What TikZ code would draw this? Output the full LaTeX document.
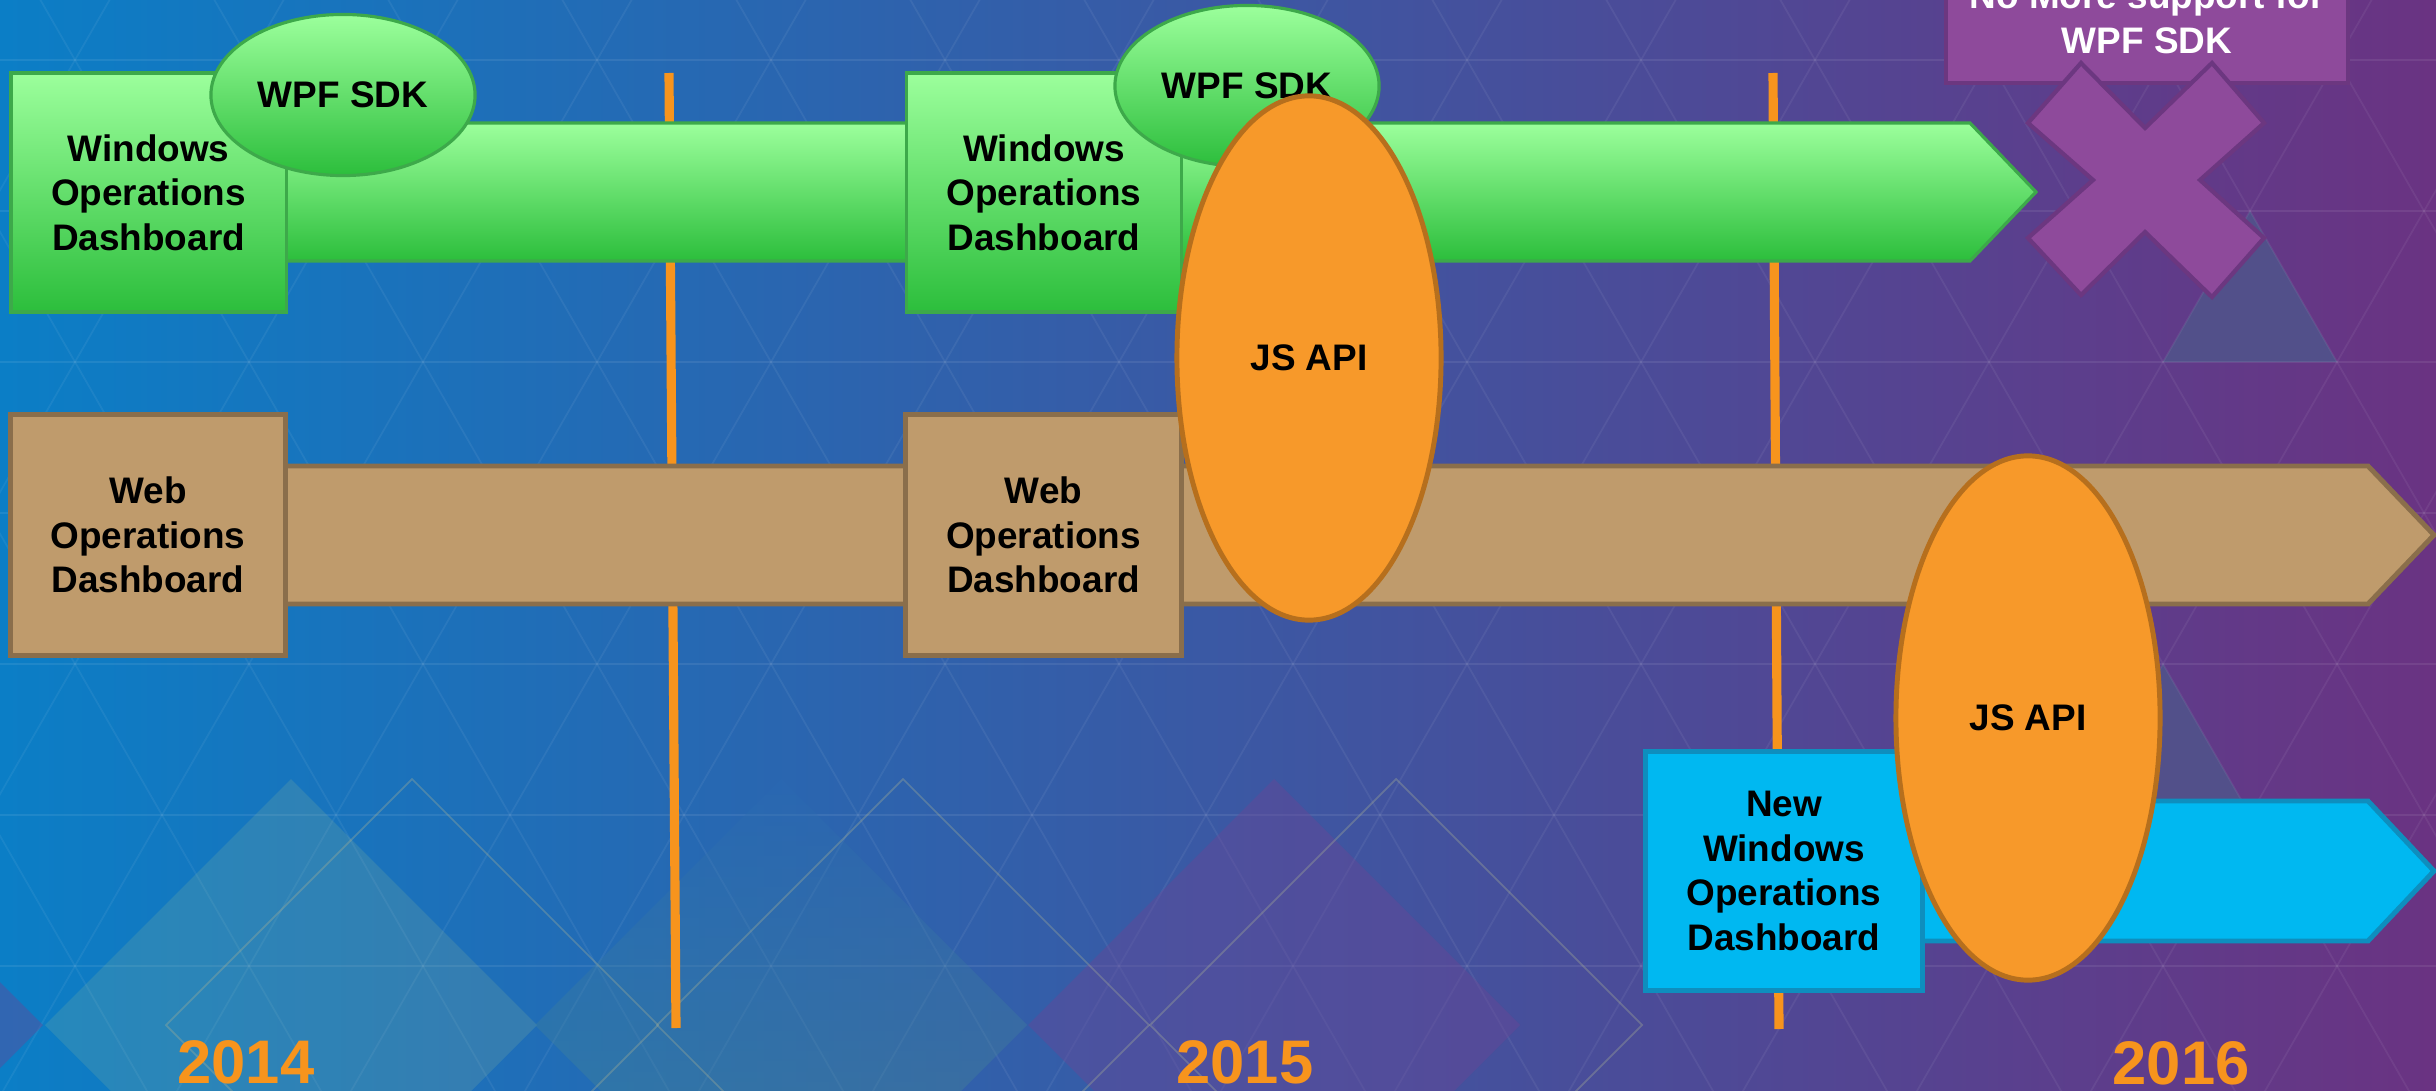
\documentclass[tikz,border=0pt]{standalone}
\usepackage{fontspec}
\setmainfont{Liberation Sans}
\usetikzlibrary{positioning,shapes.geometric}

\definecolor{bgblue}{HTML}{0B7EC6}
\definecolor{bgmid}{HTML}{3C52A2}
\definecolor{bgpurple}{HTML}{6A3382}
\definecolor{lightgreen}{HTML}{9CFF9C}
\definecolor{darkgreen}{HTML}{2CBE3C}
\definecolor{greenline}{HTML}{3DA94A}
\definecolor{tanfill}{HTML}{BF9B6C}
\definecolor{tanline}{HTML}{8A6E4B}
\definecolor{cyanfill}{HTML}{00B8F1}
\definecolor{cyanline}{HTML}{0E8EBE}
\definecolor{apiorange}{HTML}{F7992A}
\definecolor{apiline}{HTML}{B66F1D}
\definecolor{yearorange}{HTML}{F7941D}
\definecolor{dropfill}{HTML}{8E4A9B}
\definecolor{dropline}{HTML}{6C3780}
\definecolor{diateal}{HTML}{9DC294}
\definecolor{diadeep}{HTML}{5A9A80}
\definecolor{diatop}{HTML}{2A6AB4}
\definecolor{diapurple}{HTML}{6C4495}
\definecolor{diaedge}{HTML}{A8B094}
\definecolor{hilite}{HTML}{52508A}

\begin{document}
\begin{tikzpicture}[x=0.01cm,y=-0.01cm,on grid,node distance=8.95cm,
  every node/.style={font=\bfseries\fontsize{10.5}{12.7}\selectfont,align=center,inner sep=0pt},
  wod/.style={rectangle,draw=greenline,line width=0.9pt,top color=lightgreen,bottom color=darkgreen,minimum width=2.75cm,minimum height=2.39cm},
  web/.style={rectangle,draw=tanline,line width=1.4pt,fill=tanfill,minimum width=2.75cm,minimum height=2.4cm},
  newwod/.style={rectangle,draw=cyanline,line width=1.4pt,fill=cyanfill,minimum width=2.76cm,minimum height=2.38cm},
  sdk/.style={ellipse,draw=greenline,line width=0.9pt,top color=lightgreen,bottom color=darkgreen,minimum width=2.64cm,minimum height=1.61cm},
  api/.style={ellipse,draw=apiline,line width=1.4pt,fill=apiorange,minimum width=2.64cm,minimum height=5.24cm},
  nomore/.style={rectangle,draw=dropline,line width=1.1pt,fill=dropfill,text=white,minimum width=4.02cm,minimum height=1.3cm},
  year/.style={text=yearorange,font=\bfseries\fontsize{17.5}{20}\selectfont},
  tick/.style={draw=yearorange,line width=2.6pt},
  lattice/.style={draw=white,opacity=0.06,line width=0.5pt}]

  % backdrop
  \useasboundingbox (0,0) rectangle (2436,1091);
  \clip (0,0) rectangle (2436,1091);
  \shade[left color=bgblue,middle color=bgmid,right color=bgpurple] (0,0) rectangle (2436,1091);
  \fill[hilite] (2250,211) -- (2163,362) -- (2337,362) -- cycle;
  \fill[hilite] (2163,664) -- (2076,815) -- (2250,815) -- cycle;
  \foreach \x in {-969,-795,...,3555} {
    \draw[lattice] (\x-87,-91) -- ++(783,1359);
    \draw[lattice] (\x+87,-91) -- ++(-783,1359);
  }
  \foreach \y in {60,211,...,966}
    \draw[lattice,opacity=0.08,line width=0.7pt] (0,\y) -- (2436,\y);
  \foreach \cx/\col/\op in {-203/diapurple/0.4,291/diateal/0.18,1274/diapurple/0.4}
    \fill[\col,opacity=\op] (\cx,779) -- ++(246,246) -- ++(-246,246) -- ++(-246,-246) -- cycle;
  \shade[top color=diatop,bottom color=diadeep,opacity=0.35]
    (781,779) -- ++(246,246) -- ++(-246,246) -- ++(-246,-246) -- cycle;
  \foreach \cx in {412,903,1396}
    \draw[diaedge,opacity=0.35,line width=0.5pt] (\cx,779) -- ++(246,246) -- ++(-246,246) -- ++(-246,-246) -- cycle;

  % year ticks
  \draw[tick] (669,73) -- (676,1028);
  \draw[tick] (1773,73) -- (1779,1029);

  % bars
  \draw[greenline,line width=0.9pt,top color=lightgreen,bottom color=darkgreen]
    (280,123) -- (1970,123) -- (2036,192) -- (1970,261) -- (280,261) -- cycle;
  \draw[tanline,line width=1.4pt,fill=tanfill]
    (280,466) -- (2368,466) -- (2434,535) -- (2368,604) -- (280,604) -- cycle;
  \draw[cyanline,line width=1.4pt,fill=cyanfill]
    (1915,801) -- (2368,801) -- (2434,871) -- (2368,941) -- (1915,941) -- cycle;

  % products
  \node[wod]    (wod1)               at (148.5,192.5) {Windows\\Operations\\Dashboard};
  \node[wod]    (wod2) [right=of wod1]                {Windows\\Operations\\Dashboard};
  \node[web]    (web1)               at (148,535)     {Web\\Operations\\Dashboard};
  \node[web]    (web2) [right=of web1]                {Web\\Operations\\Dashboard};
  \node[newwod] (newwod)             at (1784,871)    {New\\Windows\\Operations\\Dashboard};

  % sdks
  \node[sdk] (sdk1) at (343,95)   {WPF SDK};
  \node[sdk] (sdk2) at (1247,86)  {WPF SDK};
  \node[api] (api1) at (1309,358) {JS API};
  \node[api] (api2) at (2028,718) {JS API};

  % end of wpf
  \node[nomore] (nomore) at (2147,18) {No More support for\\WPF SDK};
  \draw[dropline,line width=1.2pt,fill=dropfill]
    (2081,63) -- (2028,123) -- (2093,180) -- (2028,238) -- (2081,295) -- (2145,232)
    -- (2212,297) -- (2264,238) -- (2200,180) -- (2264,123) -- (2212,63) -- (2145,128) -- cycle;

  % years
  \node[year] (y2014) at (246,1062)  {2014};
  \node[year] (y2015) at (1245,1062) {2015};
  \node[year] (y2016) at (2181,1063) {2016};
\end{tikzpicture}
\end{document}
